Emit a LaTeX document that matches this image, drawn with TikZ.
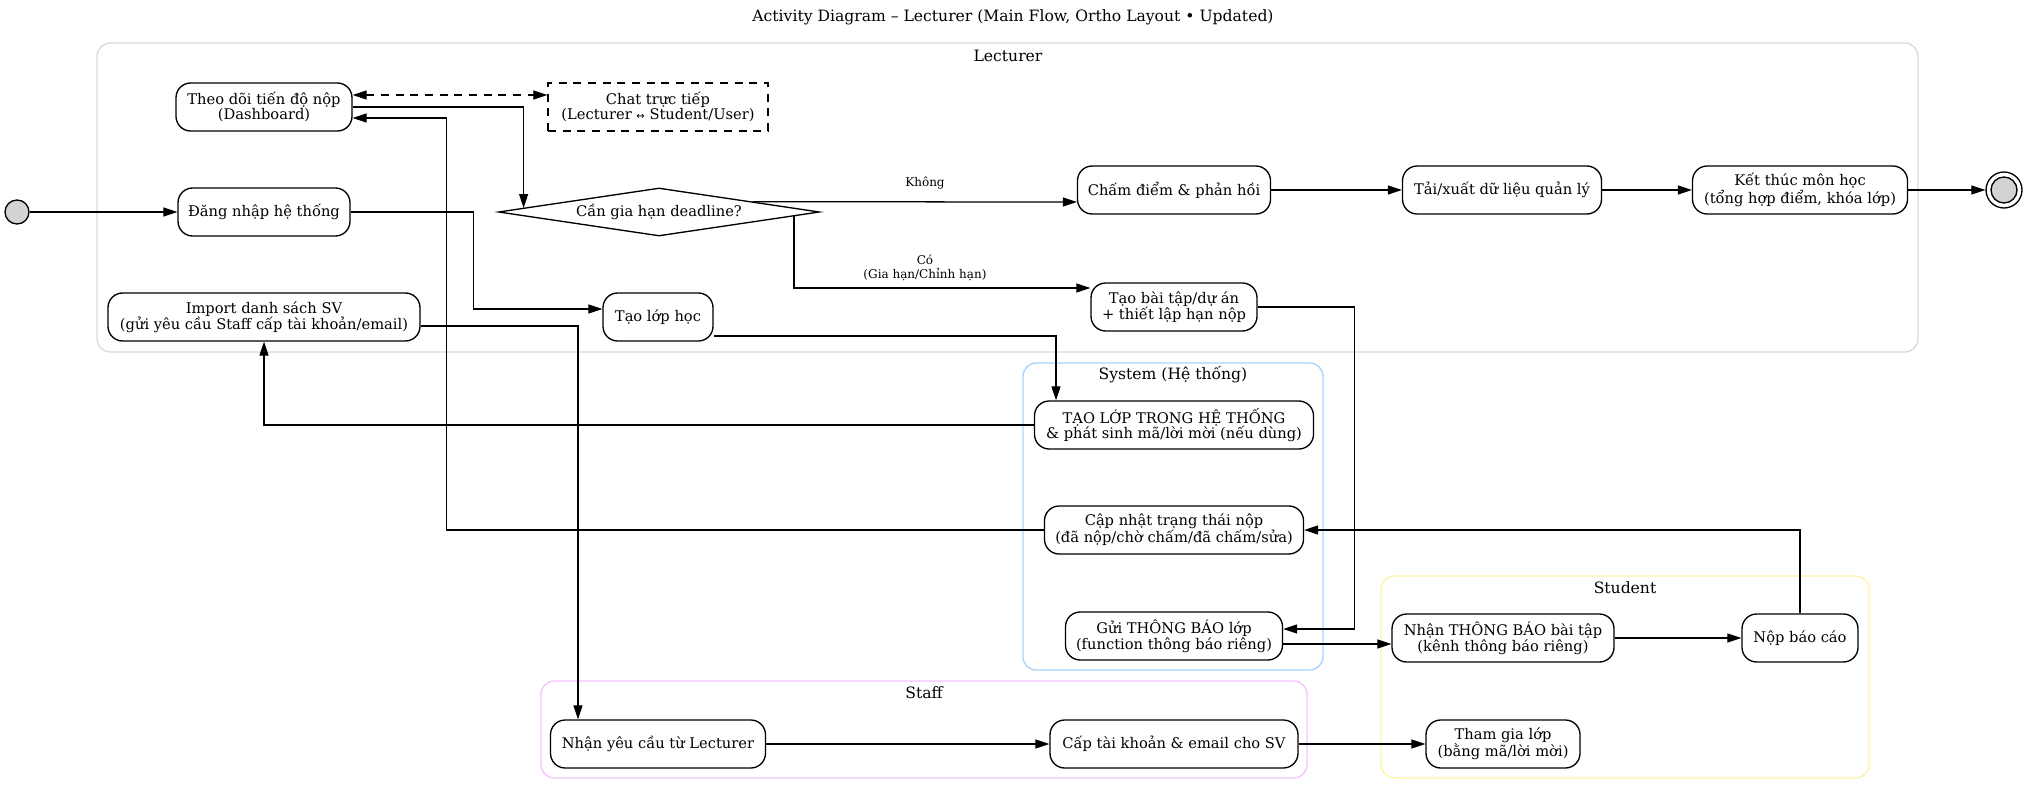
\documentclass[tikz,border=0pt]{standalone}
\usepackage{fontspec}
\setmainfont{DejaVu Serif}
\newfontfamily\symf{DejaVu Sans}
\usetikzlibrary{arrows.meta,shapes.geometric,calc}
\definecolor{clLect}{HTML}{D9D9D9}
\definecolor{clSys}{HTML}{A6D2FF}
\definecolor{clStaff}{HTML}{F4C2FF}
\definecolor{clStud}{HTML}{FFF2A8}
\definecolor{startgray}{HTML}{D3D3D3}
\begin{document}
\begin{tikzpicture}[x=0.75pt,y=-0.75pt,
  nfont/.style={font=\fontsize{11}{11.8}\selectfont},
  act/.style={draw, line width=1pt, rounded corners=11pt, inner sep=0pt, align=center,
              minimum height=36pt, fill=white, nfont},
  wd/.style={minimum width=#1*0.75pt},
  chatbox/.style={draw, dash pattern=on 6pt off 5pt, line width=1pt, inner sep=0pt, align=center,
              minimum height=36pt, fill=white, nfont},
  decision/.style={draw, diamond, aspect=6.7, line width=1pt, inner sep=0pt, fill=white,
              minimum width=240.75pt, minimum height=36pt, nfont},
  cluster/.style={line width=1pt, rounded corners=10pt},
  clabel/.style={inner sep=0pt, font=\fontsize{11.7}{13}\selectfont},
  elabel/.style={inner sep=0pt, align=center, font=\fontsize{9}{11}\selectfont},
  arr/.style={line width=0.95pt, -{Triangle[length=10.5pt,width=6.75pt]}},
  dasharr/.style={line width=0.95pt, dash pattern=on 6pt off 5pt,
              {Triangle[length=10.5pt,width=6.75pt]}-{Triangle[length=10.5pt,width=6.75pt]}},
]
\useasboundingbox (0,0) rectangle (2026,795);

% title
\node[clabel] (title) at (1013,17) {Activity Diagram – Lecturer (Main Flow, Ortho Layout • Updated)};

% clusters
\draw[cluster, clLect]  (97,43)   rectangle (1918,352);
\draw[cluster, clSys]   (1023,363) rectangle (1323,670);
\draw[cluster, clStaff] (541,681) rectangle (1307,778);
\draw[cluster, clStud]  (1381,576) rectangle (1869,778);
\node[clabel] (lLect)  at (1008,56)  {Lecturer};
\node[clabel] (lSys)   at (1173,375) {System (Hệ thống)};
\node[clabel] (lStaff) at (924,693)  {Staff};
\node[clabel] (lStud)  at (1625,588) {Student};

% start / end
\node[circle, draw, line width=1pt, fill=startgray, minimum size=18pt, inner sep=0pt] (start) at (17,212) {};
\node[circle, draw, line width=1pt, minimum size=27pt, inner sep=0pt] (fin) at (2004,190) {};
\node[circle, draw, line width=1pt, fill=startgray, minimum size=19.5pt, inner sep=0pt] (finin) at (fin) {};

% Lecturer
\node[act, wd=176] (td)   at (264,107)  {Theo dõi tiến độ nộp\\(Dashboard)};
\node[act, wd=172] (dn)   at (264,212)  {Đăng nhập hệ thống};
\node[act, wd=312] (imp)  at (264,317)  {Import danh sách SV\\(gửi yêu cầu Staff cấp tài khoản/email)};
\node[chatbox, wd=220] (chat) at (658,107) {Chat trực tiếp\\(Lecturer {\symf\fontsize{7.5}{11.8}\selectfont ↔} Student/User)};
\node[decision] (dia) at (659,212) {Cần gia hạn deadline?};
\node[act, wd=110] (tlh)  at (658,317)  {Tạo lớp học};
\node[act, wd=193] (cham) at (1174,190) {Chấm điểm \& phản hồi};
\node[act, wd=166] (tbt)  at (1174,307) {Tạo bài tập/dự án\\+ thiết lập hạn nộp};
\node[act, wd=199] (tai)  at (1502,190) {Tải/xuất dữ liệu quản lý};
\node[act, wd=215] (ket)  at (1800,190) {Kết thúc môn học\\(tổng hợp điểm, khóa lớp)};

% System
\node[act, wd=279] (tlht) at (1174,425) {TẠO LỚP TRONG HỆ THỐNG\\\& phát sinh mã/lời mời (nếu dùng)};
\node[act, wd=259] (cn)   at (1174,530) {Cập nhật trạng thái nộp\\(đã nộp/chờ chấm/đã chấm/sửa)};
\node[act, wd=217] (gui)  at (1174,636) {Gửi THÔNG BÁO lớp\\(function thông báo riêng)};

% Student
\node[act, wd=222] (ntb)  at (1503,638) {Nhận THÔNG BÁO bài tập\\(kênh thông báo riêng)};
\node[act, wd=116] (nop)  at (1800,638) {Nộp báo cáo};
\node[act, wd=154] (tg)   at (1503,744) {Tham gia lớp\\(bằng mã/lời mời)};

% Staff
\node[act, wd=215] (nyc)  at (658,744)  {Nhận yêu cầu từ Lecturer};
\node[act, wd=248] (cap)  at (1174,744) {Cấp tài khoản \& email cho SV};

% edge labels
\node[elabel] (lkhong) at (925,183) {Không};
\node[elabel] (lco)    at (925,268) {Có\\(Gia hạn/Chỉnh hạn)};

% edges
\draw[arr] (start) -- (dn);
\draw[arr] (dn.east) -- ++(123,0) |- ([yshift=6pt]tlh.west);
\draw[dasharr] ([yshift=9pt]td.east) -- ([yshift=9pt]chat.west);
\draw[arr] (td.east) -| ($(dia.west)!0.16!(dia.north)$);
\draw[arr] ($(dia.north)!0.583!(dia.east)$) -- ([yshift=-9pt]cham.west);
\draw[arr] ($(dia.east)!0.1625!(dia.south)$) |- ([yshift=14.25pt]tbt.west);
\draw[arr] (cham) -- (tai);
\draw[arr] (tai) -- (ket);
\draw[arr] (ket) -- (fin);
\draw[arr] ([yshift=-6.75pt]imp.east) -| ([xshift=-60pt]nyc.north);
\draw[arr] ([yshift=-14.25pt]tlh.east) -| ([xshift=-88.5pt]tlht.north);
\draw[arr] (tlht.west) -| (imp.south);
\draw[arr] (cn.west) -| ([xshift=70.5pt,yshift=-8.25pt]td.east) -- ([yshift=-8.25pt]td.east);
\draw[arr] (tbt.east) -| ([xshift=53.25pt,yshift=5.25pt]gui.east) -- ([yshift=5.25pt]gui.east);
\draw[arr] ([yshift=-6pt]gui.east) -- ([yshift=-4.5pt]ntb.west);
\draw[arr] (ntb) -- (nop);
\draw[arr] (nop.north) |- (cn.east);
\draw[arr] (nyc) -- (cap);
\draw[arr] (cap) -- (tg);
\end{tikzpicture}
\end{document}
